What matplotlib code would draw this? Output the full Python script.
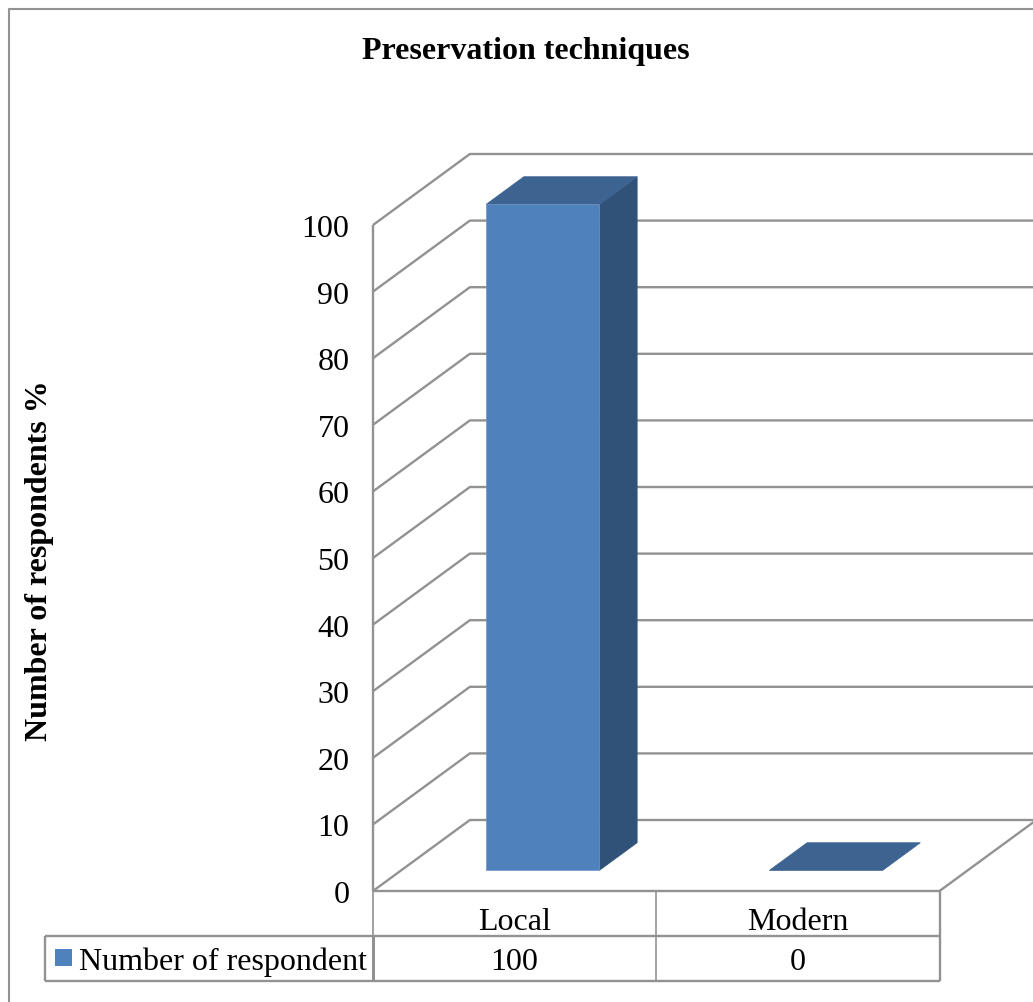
import matplotlib
matplotlib.use("Agg")
import matplotlib.pyplot as plt
from matplotlib.lines import Line2D
from matplotlib.patches import Polygon, Rectangle

plt.rcParams['font.family'] = ['Liberation Serif', 'DejaVu Serif']

# Data
categories = ["Local", "Modern"]
values = [100, 0]
series_name = "Number of respondent"
y_ticks = list(range(0, 101, 10))
title = "Preservation techniques"
ylabel = "Number of respondents %"

# Colours
GRID = "#929292"
FRONT = "#4f81bd"
TOP = "#3d6391"
SIDE = "#315278"

W, H = 1033, 1003
fig = plt.figure(figsize=(W / 100, H / 100), dpi=100)

# The axes is the front plane of the 3D box
ax = fig.add_axes([373 / W, 1 - 892 / H, 566.5 / W, 666 / H])
ax.set_xlim(0, len(categories))
ax.set_ylim(0, 100)
ax.patch.set_visible(False)
for s in ax.spines.values():
    s.set_visible(False)

# Depth of the box in data units
DX = 0.342
DY = 10.66
BAR_W = 0.4
BAR_OFFSET = 0.29   # front of bars, share of depth
BAR_DEPTH = 0.39    # bar depth, share of depth
X_END = len(categories) + DX


def gline(xs, ys, lw=1.7, zorder=1):
    ax.add_line(Line2D(xs, ys, color=GRID, lw=lw, clip_on=False, zorder=zorder,
                       solid_capstyle='butt', solid_joinstyle='round'))


# Side wall and back wall lines
for t in y_ticks:
    gline([0, DX, X_END], [t, t + DY, t + DY])
gline([0, 0], [0, 100])
gline([0, len(categories)], [0, 0])
gline([len(categories), len(categories) + DX], [0, DY])

# Bars
for i, v in enumerate(values):
    x0 = i + 0.5 - BAR_W / 2 + DX * BAR_OFFSET
    x1 = x0 + BAR_W
    y0 = DY * BAR_OFFSET
    y1 = y0 + v
    dx = DX * BAR_DEPTH
    dy = DY * BAR_DEPTH
    if v > 0:
        ax.add_patch(Polygon([(x1, y0), (x1 + dx, y0 + dy), (x1 + dx, y1 + dy), (x1, y1)],
                             fc=SIDE, ec=SIDE, lw=0.5, clip_on=False, zorder=3))
        ax.add_patch(Rectangle((x0, y0), BAR_W, v, fc=FRONT, ec="#6f94c4", lw=0.5,
                               clip_on=False, zorder=4))
    ax.add_patch(Polygon([(x0, y1), (x1, y1), (x1 + dx, y1 + dy), (x0 + dx, y1 + dy)],
                         fc=TOP, ec=TOP, lw=0.5, clip_on=False, zorder=3))

# Y ticks
ax.set_xticks([])
ax.set_yticks(y_ticks)
ax.tick_params(axis='y', length=0, pad=17, labelsize=23, labelcolor='black')

# Data table under the plot
ROW1 = -6.7
ROW2 = -13.45
LEFT = -1.157
n = len(categories)
gline([0, 0], [0, ROW2], lw=1.2)
gline([n, n], [0, ROW2])
gline([1, 1], [0, ROW2], lw=1.2)
gline([LEFT, n], [ROW1, ROW1])
gline([LEFT, n], [ROW2, ROW2])
gline([LEFT, LEFT], [ROW1, ROW2])
gline([0, 0], [ROW1, ROW2], lw=2.2)
for i, c in enumerate(categories):
    ax.text(i + 0.5, ROW1 / 2 - 1.3, c, ha='center', va='center', fontsize=23, clip_on=False)
    ax.text(i + 0.5, (ROW1 + ROW2) / 2 - 0.5, str(values[i]), ha='center', va='center',
            fontsize=23, clip_on=False)

# Legend key and name in the table's first cell
ax.add_patch(Rectangle((LEFT + 0.034, -11.26), 0.06, 2.55, fc=FRONT, ec='none', clip_on=False))
ax.text(LEFT + 0.12, (ROW1 + ROW2) / 2 - 0.5, series_name, ha='left', va='center',
        fontsize=23, clip_on=False)

# Title, y label, outer frame
fig.text(526 / W, 1 - 51 / H, title, ha='center', va='center', fontsize=23, fontweight='bold')
fig.text(40 / W, 1 - 561 / H, ylabel, ha='center', va='center', rotation=90,
         fontsize=23, fontweight='bold')
fig.add_artist(Line2D([9 / W, 9 / W, 1], [0, 1 - 9.5 / H, 1 - 9.5 / H], color=GRID, lw=1.5))

fig.savefig("out.png", dpi=100)
